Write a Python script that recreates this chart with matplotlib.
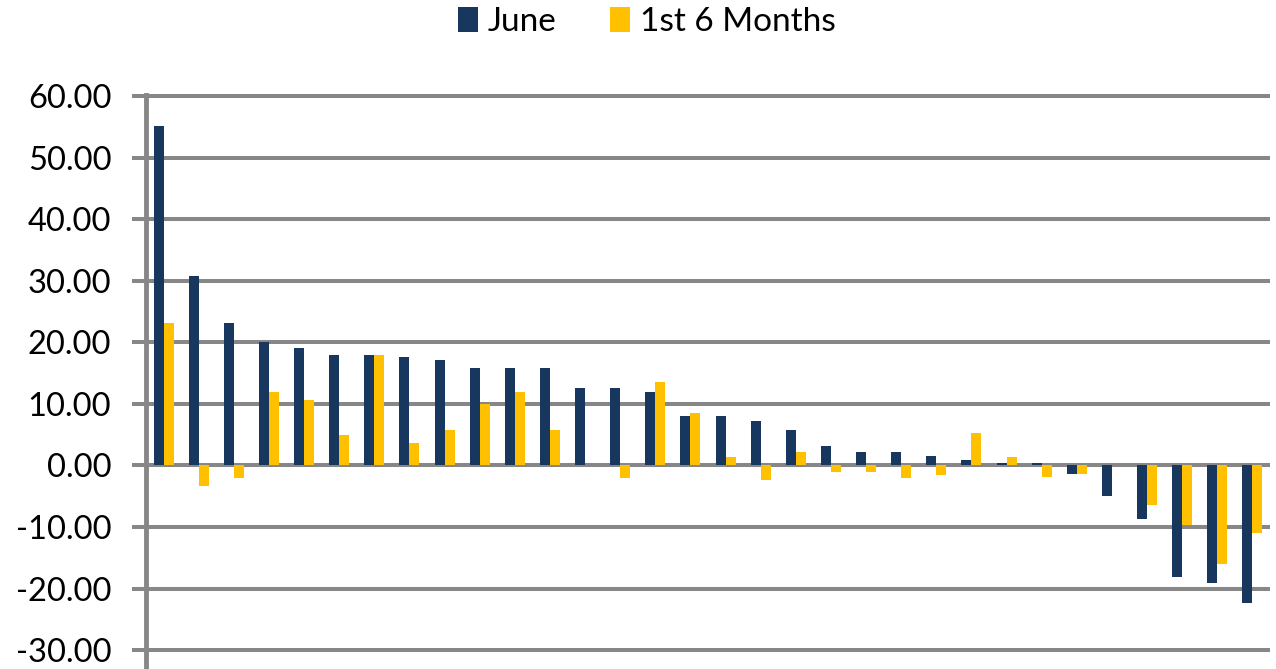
import numpy as np
import matplotlib
matplotlib.use('Agg')
import matplotlib.pyplot as plt

plt.rcParams['font.family'] = ['Lato', 'DejaVu Sans']

# values (32 categories, no labels shown)
june = [55.1, 30.7, 23.1, 20.0, 19.0, 18.0, 18.0, 17.6, 17.1, 15.8, 15.8, 15.8,
        12.5, 12.5, 12.0, 8.0, 8.0, 7.2, 5.7, 3.1, 2.1, 2.1, 1.6, 0.9,
        0.4, 0.4, -1.4, -5.0, -8.7, -18.2, -19.1, -22.3]
six_months = [23.1, -3.3, -2.0, 12.0, 10.7, 4.9, 18.0, 3.6, 5.7, 9.9, 12.0, 5.7,
              0.0, -2.0, 13.5, 8.5, 1.3, -2.4, 2.1, -1.0, -1.0, -2.0, -1.5, 5.3,
              1.3, -1.9, -1.4, 0.0, -6.4, -9.7, -16.0, -11.0]
series_names = ['June', '1st 6 Months']
yticks = np.arange(-30, 61, 10)

navy = '#17375E'
gold = '#FFC000'
grid_gray = '#878787'

fig = plt.figure(figsize=(12.76, 6.69), dpi=100)
ax = fig.add_axes([0.1144, 0.0, 0.8809, 0.8602])

x = np.arange(len(june))
w = 0.285
ax.bar(x - w / 2, june, width=w, color=navy, label=series_names[0], zorder=3)
ax.bar(x + w / 2, six_months, width=w, color=gold, label=series_names[1], zorder=3)

ax.set_xlim(-0.5, len(june) - 0.5)
ax.set_ylim(-33.07, 60.4)
ax.set_yticks(yticks)
ax.set_yticklabels([f'{v:.2f}' for v in yticks], fontsize=23.5)
ax.set_xticks([])

ax.yaxis.grid(True, color=grid_gray, linewidth=2.9, zorder=0)
ax.set_axisbelow(True)
for s in ['top', 'right', 'bottom']:
    ax.spines[s].set_visible(False)
ax.spines['left'].set_color(grid_gray)
ax.spines['left'].set_linewidth(3.5)
ax.spines['left'].set_bounds(-33.07, 60.2)
ax.tick_params(axis='y', length=10, width=2.9, color=grid_gray, pad=15)

fig.legend(loc='center', bbox_to_anchor=(0.507, 0.967), ncol=2, frameon=False,
           fontsize=24, handlelength=0.6, handleheight=0.75, handletextpad=0.3,
           columnspacing=1.6, borderaxespad=0)

fig.savefig('out.png', dpi=100)
